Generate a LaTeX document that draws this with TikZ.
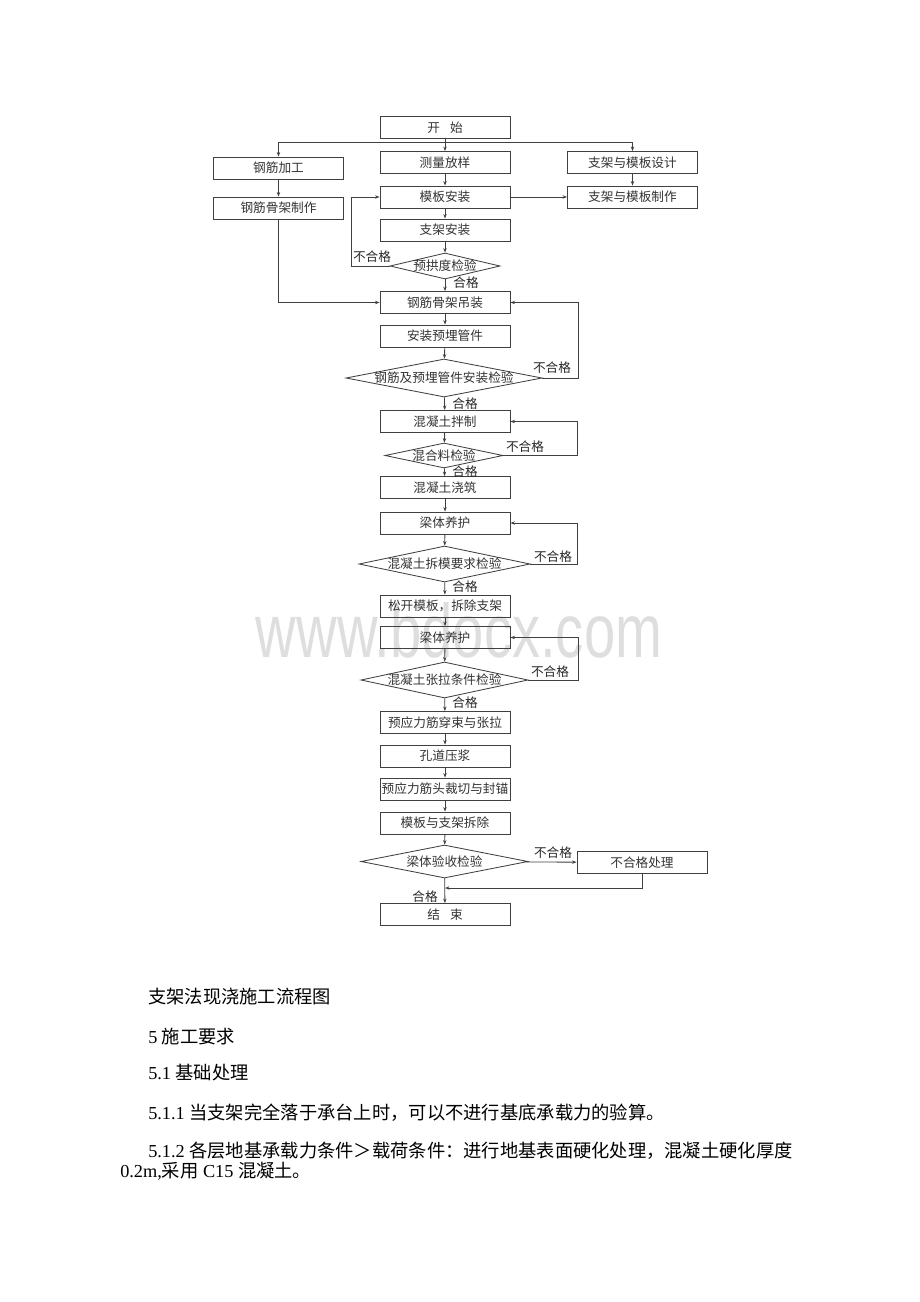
\documentclass[tikz,border=0pt]{standalone}
\usepackage{fontspec}
\setmainfont{Liberation Serif}
\newfontfamily\cjk{Noto Sans CJK SC}
\newfontfamily\wmfont{Liberation Sans}
\usetikzlibrary{shapes.geometric,arrows.meta}
\newcommand{\zw}[1]{\makebox[0pt]{#1}}

\begin{document}
\begin{tikzpicture}[x=0.025cm,y=-0.025cm,
  >={Stealth[length=3.2pt,width=2.4pt]},
  line/.style={draw=black!75, line width=0.6pt},
  box/.style={line, minimum width=3.25cm, minimum height=0.55cm, inner sep=0pt,
    font=\cjk\fontsize{9}{9}\selectfont, text=black!80},
  check/.style={line, diamond, aspect=1, inner sep=0pt,
    font=\cjk\fontsize{9}{9}\selectfont, text=black!80},
  lbl/.style={inner sep=0pt, font=\cjk\fontsize{9}{9}\selectfont, text=black!85},
  txt/.style={anchor=west, inner sep=0pt, font=\fontsize{13}{15}\selectfont}]
\useasboundingbox (0,0) rectangle (920,1302);

%watermark
\node[anchor=base, text=black!13, font=\wmfont\fontsize{40}{40}\selectfont] (mark) at (459,657)
  {\scalebox{1}[1.35]{www.bdocx.com}};

%boxes
\node[box] (start) at (445,127.5) {开\hspace{0.8em}始};
\node[box] (rebar) at (278.5,168) {钢筋加工};
\node[box] (survey) at (445,162.5) {测量放样};
\node[box] (design) at (632.5,162.5) {支架与模板设计};
\node[box] (cage) at (278.5,208) {钢筋骨架制作};
\node[box] (form) at (445,197) {模板安装};
\node[box] (make) at (632.5,197) {支架与模板制作};
\node[box] (bracket) at (445,230) {支架安装};
\node[check, minimum width=2.75cm, minimum height=0.65cm] (d1) at (445,266) {\zw{预拱度检验}};
\node[box] (lift) at (445,302.5) {钢筋骨架吊装};
\node[box] (pipe) at (445,336) {安装预埋管件};
\node[check, minimum width=4.9cm, minimum height=0.95cm] (d2) at (444,378) {\zw{钢筋及预埋管件安装检验}};
\node[box] (mix) at (445,421.5) {混凝土拌制};
\node[check, minimum width=2.95cm, minimum height=0.625cm] (d3) at (444,455.5) {\zw{混合料检验}};
\node[box] (pour) at (445,487.5) {混凝土浇筑};
\node[box] (cure) at (445,523) {梁体养护};
\node[check, minimum width=4.275cm, minimum height=0.9cm] (d4) at (444.5,564) {\zw{混凝土拆模要求检验}};
\node[box] (loosen) at (445,606) {松开模板，拆除支架};
\node[box] (cure2) at (445,637.5) {梁体养护};
\node[check, minimum width=4.175cm, minimum height=0.9cm] (d5) at (444.5,680) {\zw{混凝土张拉条件检验}};
\node[box] (tension) at (445,722.5) {预应力筋穿束与张拉};
\node[box] (grout) at (445,756) {孔道压浆};
\node[box] (anchor) at (445,789) {预应力筋头裁切与封锚};
\node[box] (remove) at (445,823) {模板与支架拆除};
\node[check, minimum width=4.175cm, minimum height=0.825cm] (d6) at (444.5,861.5) {\zw{梁体验收检验}};
\node[box] (fix) at (642,862.5) {不合格处理};
\node[box] (finish) at (445,914.5) {结\hspace{0.8em}束};

%labels
\node[lbl] (fail1) at (372,257) {不合格};
\node[lbl] (pass1) at (466,283) {合格};
\node[lbl] (fail2) at (552,368) {不合格};
\node[lbl] (pass2) at (465,404) {合格};
\node[lbl] (fail3) at (525,447) {不合格};
\node[lbl] (pass3) at (465,472) {合格};
\node[lbl] (fail4) at (553,557) {不合格};
\node[lbl] (pass4) at (465,587) {合格};
\node[lbl] (fail5) at (550,672) {不合格};
\node[lbl] (pass5) at (465,703) {合格};
\node[lbl] (fail6) at (553,853) {不合格};
\node[lbl] (pass6) at (425,897) {合格};

%connectors
\coordinate (split) at (445,142);
\coordinate (join) at (445,888);
\draw[line] (start) -- (split);
\draw[line,->] (split) -| (rebar);
\draw[line,->] (split) -| (design);
\draw[line,->] (split) -- (survey);
\draw[line,->] (rebar) -- (cage);
\draw[line,->] (design) -- (make);
\draw[line,->] (survey) -- (form);
\draw[line,->] (form) -- (make);
\draw[line,->] (form) -- (bracket);
\draw[line,->] (bracket) -- (d1);
\draw[line,->] (d1.west) -- ++(-38,0) |- (form.west);
\draw[line,->] (d1) -- (lift);
\draw[line,->] (cage) |- (lift);
\draw[line,->] (lift) -- (pipe);
\draw[line,->] (pipe) -- (d2);
\draw[line,->] (d2.east) -- ++(36,0) |- (lift.east);
\draw[line,->] (d2) -- (mix);
\draw[line,->] (mix) -- (d3);
\draw[line,->] (d3.east) -- ++(74,0) |- (mix.east);
\draw[line,->] (d3) -- (pour);
\draw[line,->] (pour) -- (cure);
\draw[line,->] (cure) -- (d4);
\draw[line,->] (d4.east) -- ++(47,0) |- (cure.east);
\draw[line,->] (d4) -- (loosen);
\draw[line,->] (loosen) -- (cure2);
\draw[line,->] (cure2) -- (d5);
\draw[line,->] (d5.east) -- ++(50,0) |- (cure2.east);
\draw[line,->] (d5) -- (tension);
\draw[line,->] (tension) -- (grout);
\draw[line,->] (grout) -- (anchor);
\draw[line,->] (anchor) -- (remove);
\draw[line,->] (remove) -- (d6);
\draw[line,->] (d6) -- (fix);
\draw[line,->] (fix.south) |- (join);
\draw[line,->] (d6) -- (finish);

%text below
\node[txt] (caption) at (148,997) {\cjk 支架法现浇施工流程图};
\node[txt] (sec5) at (148,1037) {5 {\cjk 施工要求}};
\node[txt] (sec51) at (148,1073) {5.1 {\cjk 基础处理}};
\node[txt] (sec511) at (148,1113) {5.1.1 {\cjk 当支架完全落于承台上时，可以不进行基底承载力的验算。}};
\node[txt] (sec512) at (148,1151) {5.1.2 {\cjk 各层地基承载力条件＞载荷条件：进行地基表面硬化处理，混凝土硬化厚度}};
\node[txt] (sec512b) at (120,1171) {0.2m,{\cjk 采用} C15 {\cjk 混凝土。}};
\end{tikzpicture}
\end{document}
